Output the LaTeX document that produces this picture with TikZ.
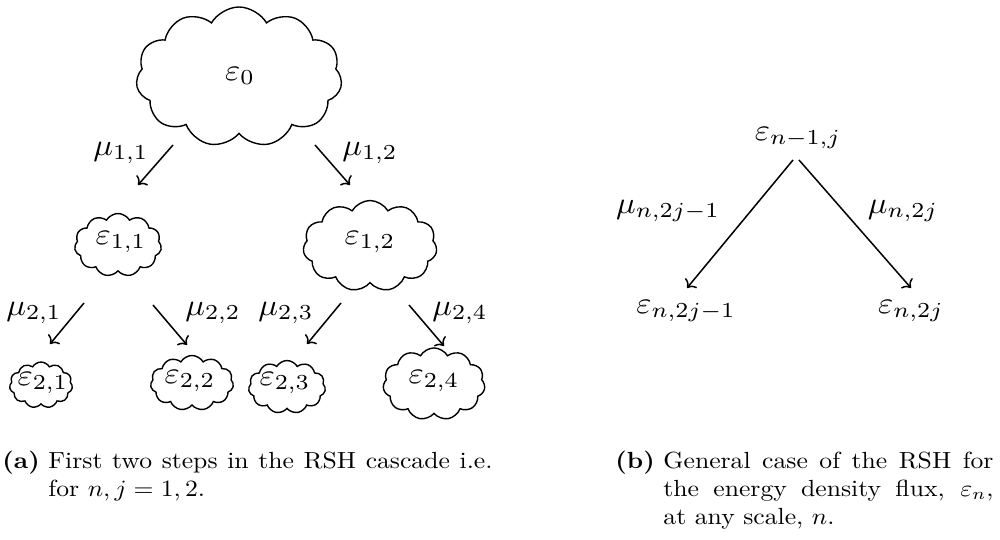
\documentclass[tikz,border=0pt]{standalone}
\usetikzlibrary{shapes.symbols,arrows.meta}
\newcommand{\mylbl}[1]{\scalebox{1.4}[1.31]{$#1$}}
\newcommand{\mycap}[1]{\scalebox{1.1}[1.0]{#1}}
\tikzset{
  px/.style={x=0.4286pt,y=-0.4286pt},
  puff/.style={cloud, draw, line width=0.6pt, cloud puffs=11, cloud puff arc=120,
    cloud ignores aspect, inner sep=0pt},
  lbl/.style={inner sep=0pt},
  arr/.style={-{To[length=3pt,width=6.5pt]}, line width=0.65pt},
  captxt/.style={inner sep=0pt, anchor=base west},
}
\begin{document}
\begin{tikzpicture}[px]
\useasboundingbox (0,0) rectangle (1000,540);
% clouds
\node[puff, minimum width=88.3pt, minimum height=60pt] (e0) at (239,77) {};
\node[lbl] (te0) at (240,76) {\mylbl{\varepsilon_0}};
\node[puff, minimum width=37.3pt, minimum height=27pt] (e11) at (118,245) {};
\node[lbl] (te11) at (121,242) {\mylbl{\varepsilon_{1,1}}};
\node[puff, minimum width=57.4pt, minimum height=39pt] (e12) at (370,246) {};
\node[lbl] (te12) at (370,242) {\mylbl{\varepsilon_{1,2}}};
\node[puff, minimum width=27pt, minimum height=19.7pt] (e21) at (41,385) {};
\node[lbl] (te21) at (43,383) {\mylbl{\varepsilon_{2,1}}};
\node[puff, minimum width=35.6pt, minimum height=23.6pt] (e22) at (192,383) {};
\node[lbl] (te22) at (190,381) {\mylbl{\varepsilon_{2,2}}};
\node[puff, minimum width=33pt, minimum height=22.7pt] (e23) at (287,387) {};
\node[lbl] (te23) at (285,383) {\mylbl{\varepsilon_{2,3}}};
\node[puff, minimum width=43.7pt, minimum height=30.9pt] (e24) at (434,384) {};
\node[lbl] (te24) at (434,381) {\mylbl{\varepsilon_{2,4}}};
% arrow ends
\coordinate (a11s) at (173,145); \coordinate (a11e) at (138,185);
\coordinate (a12s) at (315,145); \coordinate (a12e) at (350,185);
\coordinate (a21s) at (84,303);  \coordinate (a21e) at (50,344);
\coordinate (a22s) at (153,305); \coordinate (a22e) at (187,345);
\coordinate (a23s) at (341,303); \coordinate (a23e) at (307,344);
\coordinate (a24s) at (409,305); \coordinate (a24e) at (444,346);
\draw[arr] (a11s) -- (a11e);
\draw[arr] (a12s) -- (a12e);
\draw[arr] (a21s) -- (a21e);
\draw[arr] (a22s) -- (a22e);
\draw[arr] (a23s) -- (a23e);
\draw[arr] (a24s) -- (a24e);
% mu labels
\node[lbl] (m11) at (121,153) {\mylbl{\mu_{1,1}}};
\node[lbl] (m12) at (370,153) {\mylbl{\mu_{1,2}}};
\node[lbl] (m21) at (34,313) {\mylbl{\mu_{2,1}}};
\node[lbl] (m22) at (213,313) {\mylbl{\mu_{2,2}}};
\node[lbl] (m23) at (286,313) {\mylbl{\mu_{2,3}}};
\node[lbl] (m24) at (460,313) {\mylbl{\mu_{2,4}}};
% right diagram
\node[lbl] (en) at (798,138) {\mylbl{\varepsilon_{n-1,j}}};
\node[lbl] (enl) at (686,311) {\mylbl{\varepsilon_{n,2j-1}}};
\node[lbl] (enr) at (911,311) {\mylbl{\varepsilon_{n,2j}}};
\coordinate (bls) at (793,160); \coordinate (ble) at (687,288);
\coordinate (brs) at (799,160); \coordinate (bre) at (911,288);
\draw[arr] (bls) -- (ble);
\draw[arr] (brs) -- (bre);
\node[lbl] (mnl) at (668,211) {\mylbl{\mu_{n,2j-1}}};
\node[lbl] (mnr) at (903,211) {\mylbl{\mu_{n,2j}}};
% captions
\node[captxt] (capa) at (2,468) {\mycap{\textbf{(a)}}};
\node[captxt] (capa1) at (48,468) {\mycap{\makebox[173pt][s]{First two steps in the RSH cascade i.e.}}};
\node[captxt] (capa2) at (48,496) {\mycap{for $n,j=1,2$.}};
\node[captxt] (capb) at (615,468) {\mycap{\textbf{(b)}}};
\node[captxt] (capb1) at (663,468) {\mycap{\makebox[128.6pt][s]{General case of the RSH for}}};
\node[captxt] (capb2) at (663,496) {\mycap{\makebox[128.6pt][s]{the energy density flux, $\varepsilon_n$,}}};
\node[captxt] (capb3) at (663,524) {\mycap{at any scale, $n$.}};
\end{tikzpicture}
\end{document}
